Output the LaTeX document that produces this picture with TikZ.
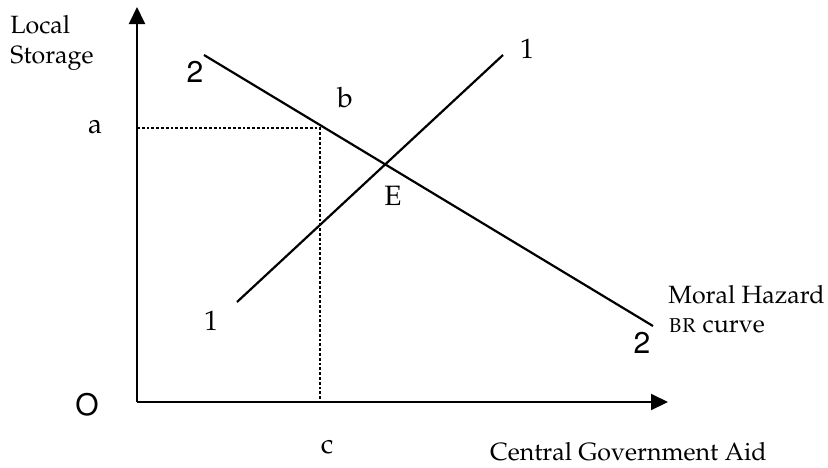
\documentclass[tikz,border=0pt]{standalone}
\usepackage[T1]{fontenc}
\renewcommand{\rmdefault}{ppl}
\usetikzlibrary{arrows.meta}
\begin{document}
\begin{tikzpicture}[x=0.5pt,y=-0.5pt,
  axis/.style={line width=1pt,-{Triangle[length=8.5pt,width=8pt]}},
  curve/.style={line width=1.1pt},
  guide/.style={line width=0.85pt,dash pattern=on 1.4pt off 1pt},
  txt/.style={inner sep=0pt,font=\fontsize{12.5}{15}\selectfont},
  lbl/.style={inner sep=0pt,font=\fontsize{14}{16}\selectfont},
  slbl/.style={inner sep=0pt,font=\fontfamily{phv}\fontsize{15}{17}\selectfont}]
\useasboundingbox (0,0) rectangle (828,467);
% axes
\coordinate (O) at (137,402);
\coordinate (ytip) at (137,7);
\coordinate (xtip) at (668,402);
\draw[axis] (O) -- (ytip);
\draw[axis] (O) -- (xtip);
% curves
\coordinate (m1) at (237,302);
\coordinate (m2) at (503,55);
\coordinate (n1) at (204,55);
\coordinate (n2) at (653,326);
\draw[curve] (m1) -- (m2);
\draw[curve] (n1) -- (n2);
% dashed guides
\coordinate (ya) at (137,128);
\coordinate (cb) at (320,128);
\coordinate (xc) at (320,402);
\draw[guide] (ya) -- (cb) -- (xc);
% labels
\node[txt,anchor=base west] (local) at (10,33) {Local};
\node[txt,anchor=base west] (storage) at (10,63) {Storage};
\node[txt,anchor=base west] (moral) at (668,303) {Moral Hazard};
\node[txt,anchor=base west] (brc) at (668,332) {\textsc{br} curve};
\node[txt,anchor=base east] (cga) at (767,460) {Central Government Aid};
\node[lbl,anchor=base] (la) at (95,133) {a};
\node[lbl,anchor=base] (lb) at (345,107) {b};
\node[lbl,anchor=base] (lc) at (327,453) {c};
\node[lbl,anchor=base] (lE) at (393,205) {E};
\node[lbl,anchor=base] (l1t) at (527,58) {1};
\node[lbl,anchor=base] (l1b) at (211,330) {1};
\node[slbl,anchor=base] (l2t) at (195,82) {2};
\node[slbl,anchor=base] (l2b) at (642,353) {2};
\node[slbl] (lO) at (87,405) {O};
\end{tikzpicture}
\end{document}
